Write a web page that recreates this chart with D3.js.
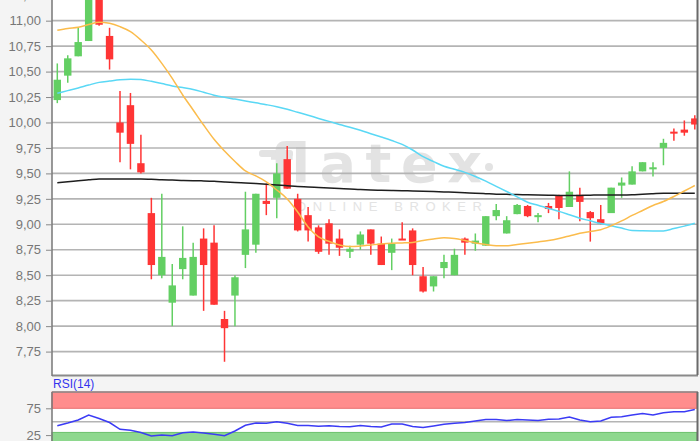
<!DOCTYPE html>
<html>
<head>
<meta charset="utf-8">
<script src="https://cdn.jsdelivr.net/npm/d3@7"></script>
<style>
  body { margin: 0; background: #f4f4f4; }
  svg { display: block; }
</style>
</head>
<body>
<div id="chart"></div>
<script>
// daily candles
var opens  = [10.22,10.46,10.65,10.80,11.30,10.85,10.00,10.17,9.60,9.11,8.50,8.23,8.56,8.30,8.86,8.82,8.07,8.30,8.70,8.80,9.23,9.26,9.64,9.25,9.09,8.97,9.01,8.86,8.73,8.80,8.95,8.81,8.72,8.86,8.94,8.49,8.39,8.57,8.50,8.86,8.81,8.79,9.08,8.91,9.10,9.18,9.07,9.18,9.28,9.17,9.29,9.12,9.05,9.11,9.38,9.39,9.52,9.54,9.75,9.91,9.93,10.04];
var highs  = [10.58,10.66,10.93,11.35,11.38,10.93,10.31,10.29,9.88,9.26,9.30,8.61,8.98,8.82,8.96,8.99,8.15,8.50,9.32,9.30,9.40,9.60,9.77,9.30,9.17,8.99,9.05,8.95,8.79,8.93,8.95,8.88,8.86,9.02,8.96,8.58,8.49,8.70,8.76,8.87,8.91,9.08,9.20,9.08,9.20,9.19,9.11,9.21,9.29,9.52,9.36,9.13,9.19,9.36,9.46,9.57,9.61,9.61,9.84,9.94,10.02,10.07];
var lows   = [10.19,10.39,10.65,10.80,10.95,10.52,9.61,9.54,9.50,8.46,8.47,8.00,8.46,8.30,8.15,8.21,7.65,8.00,8.57,8.72,9.09,9.06,9.35,8.93,8.83,8.71,8.70,8.69,8.67,8.75,8.70,8.60,8.55,8.85,8.50,8.33,8.34,8.47,8.50,8.70,8.74,8.79,9.04,8.91,9.10,9.07,9.02,9.11,9.05,9.17,9.03,8.83,9.00,9.11,9.26,9.39,9.52,9.47,9.58,9.82,9.87,9.93];
var closes = [10.42,10.63,10.79,11.28,10.96,10.62,9.90,9.79,9.51,8.60,8.68,8.40,8.67,8.68,8.60,8.21,7.98,8.48,8.95,9.30,9.20,9.50,9.35,8.94,8.94,8.73,8.81,8.77,8.76,8.90,8.81,8.60,8.81,8.85,8.60,8.34,8.49,8.63,8.70,8.82,8.84,9.08,9.14,9.04,9.19,9.08,9.09,9.15,9.16,9.32,9.22,9.06,9.01,9.36,9.41,9.52,9.61,9.56,9.80,9.90,9.90,9.98];

// moving averages as drawn
var maShort = [10.905,10.923,10.935,10.962,10.984,10.974,10.941,10.892,10.810,10.712,10.581,10.434,10.270,10.123,9.975,9.835,9.720,9.617,9.524,9.475,9.416,9.337,9.249,9.121,8.974,8.876,8.832,8.797,8.781,8.787,8.797,8.807,8.814,8.817,8.822,8.841,8.856,8.869,8.861,8.841,8.817,8.802,8.790,8.790,8.802,8.814,8.827,8.841,8.861,8.886,8.912,8.930,8.947,8.986,9.033,9.087,9.136,9.185,9.224,9.273,9.327,9.381];
var maMid   = [10.287,10.313,10.339,10.368,10.394,10.407,10.419,10.424,10.421,10.404,10.382,10.359,10.343,10.325,10.297,10.268,10.247,10.230,10.212,10.193,10.175,10.155,10.130,10.100,10.071,10.040,10.011,9.980,9.953,9.923,9.890,9.857,9.823,9.785,9.730,9.664,9.616,9.570,9.541,9.510,9.470,9.424,9.373,9.322,9.270,9.217,9.188,9.156,9.127,9.094,9.060,9.034,9.007,8.986,8.963,8.938,8.936,8.935,8.935,8.958,8.982,9.010];
var maLong  = [9.409,9.418,9.428,9.437,9.446,9.446,9.446,9.446,9.446,9.442,9.437,9.434,9.431,9.429,9.426,9.422,9.416,9.410,9.405,9.400,9.394,9.387,9.379,9.371,9.367,9.362,9.357,9.352,9.347,9.341,9.337,9.335,9.333,9.330,9.327,9.324,9.321,9.318,9.314,9.310,9.306,9.301,9.296,9.294,9.292,9.290,9.288,9.286,9.283,9.282,9.284,9.286,9.288,9.288,9.288,9.290,9.296,9.301,9.305,9.305,9.305,9.305];

var rsi = [42.5,47.6,53.2,62.5,56,48.5,35.8,34.1,29.9,23.3,25.2,23.9,29.5,30.8,28.9,26.7,23.9,32.6,43.3,47.6,47,50,47,42.9,42.9,41.4,42.4,41,40.7,42.9,41,40.1,45.7,45.7,41,39.2,42,45.1,47,48.5,51.3,54.1,54.1,52.2,54.1,53.2,52.2,54.7,55,58.8,53.2,50,51.3,58.4,59.3,62.5,65.3,62.5,66.8,68.7,68.7,72.8];

var priceTicks = [7.75,8.00,8.25,8.50,8.75,9.00,9.25,9.50,9.75,10.00,10.25,10.50,10.75,11.00,11.25];
var rsiTicks = [75, 25];
var rsiUpper = 75;
var rsiLower = 30;

var width = 700;
var height = 441;
var plotLeft = 52;
var plotRight = 697;
var plotBottom = 375;
var rsiTop = 392;

var upColor = "#63cf63";
var downColor = "#ff3535";

var de = d3.formatLocale({decimal: ",", thousands: ".", grouping: [3], currency: ["", " €"]});
var fmtPrice = de.format(".2f");

var svg = d3.select("#chart").append("svg")
  .attr("width", width)
  .attr("height", height);

svg.append("rect").attr("width", width).attr("height", height).attr("fill", "#f4f4f4");

var days = d3.range(opens.length);
var x = d3.scaleLinear().domain([0, days.length - 1]).range([57.3, 694.8]);
var y = d3.scaleLinear().domain([7.52, 11.203]).range([plotBottom, 0]);
var yr = d3.scaleLinear().domain([25, 75]).range([435.1, 408.3]);

svg.append("clipPath").attr("id", "plotClip")
  .append("rect").attr("x", plotLeft).attr("y", -20).attr("width", plotRight - plotLeft).attr("height", plotBottom + 20);

// price panel
svg.append("rect")
  .attr("x", plotLeft).attr("y", -20)
  .attr("width", plotRight - plotLeft).attr("height", plotBottom + 20)
  .attr("fill", "#fff");

// watermark
var wm = svg.append("g").attr("fill", "#e3e3e3");
wm.append("rect").attr("x", 259).attr("y", 150).attr("width", 34).attr("height", 7).attr("rx", 3);
wm.append("text")
  .attr("x", 270).attr("y", 182)
  .attr("font-family", "DejaVu Sans, sans-serif")
  .attr("font-weight", "bold")
  .attr("font-size", 54)
  .attr("textLength", 212)
  .attr("lengthAdjust", "spacing")
  .text("flatex");
wm.append("circle").attr("cx", 489).attr("cy", 167).attr("r", 4);
wm.append("text")
  .attr("x", 296).attr("y", 211)
  .attr("font-family", "Liberation Sans, Arial, sans-serif")
  .attr("font-size", 13)
  .attr("textLength", 186)
  .attr("lengthAdjust", "spacing")
  .text("ONLINE BROKER");

// grid
svg.append("g").selectAll("line")
  .data(priceTicks)
  .enter().append("line")
  .attr("x1", plotLeft).attr("x2", plotRight)
  .attr("y1", function (d) { return y(d); })
  .attr("y2", function (d) { return y(d); })
  .attr("stroke", "#b4b4b4")
  .attr("stroke-width", 1.6);

var plot = svg.append("g").attr("clip-path", "url(#plotClip)");

// candles
var candles = plot.selectAll("g.candle")
  .data(days)
  .enter().append("g")
  .attr("class", "candle");

candles.append("line")
  .attr("x1", function (i) { return x(i); })
  .attr("x2", function (i) { return x(i); })
  .attr("y1", function (i) { return y(highs[i]); })
  .attr("y2", function (i) { return y(lows[i]); })
  .attr("stroke", function (i) { return closes[i] >= opens[i] ? upColor : downColor; })
  .attr("stroke-width", 1.5);

candles.append("rect")
  .attr("x", function (i) { return x(i) - 3.7; })
  .attr("width", 7.4)
  .attr("y", function (i) { return y(Math.max(opens[i], closes[i])); })
  .attr("height", function (i) { return Math.max(2, Math.abs(y(opens[i]) - y(closes[i]))); })
  .attr("fill", function (i) { return closes[i] >= opens[i] ? upColor : downColor; });

// moving averages
var maLine = d3.line()
  .x(function (d, i) { return x(i); })
  .y(function (d) { return y(d); })
  .curve(d3.curveMonotoneX);

[[maLong, "#1e1e1e"], [maMid, "#5ad8f5"], [maShort, "#fbbc4c"]].forEach(function (m) {
  plot.append("path")
    .datum(m[0])
    .attr("d", maLine)
    .attr("fill", "none")
    .attr("stroke", m[1])
    .attr("stroke-width", 1.5);
});

// axis frame
svg.append("line").attr("x1", plotLeft).attr("x2", plotRight + 1).attr("y1", plotBottom + 0.5).attr("y2", plotBottom + 0.5)
  .attr("stroke", "#8a8a8a").attr("stroke-width", 2);
svg.append("line").attr("x1", plotRight + 0.5).attr("x2", plotRight + 0.5).attr("y1", 0).attr("y2", plotBottom)
  .attr("stroke", "#6a6a6a").attr("stroke-width", 2);

var yAxis = d3.axisLeft(y)
  .tickValues(priceTicks)
  .tickFormat(fmtPrice)
  .tickSize(6)
  .tickPadding(5);

var yg = svg.append("g")
  .attr("transform", "translate(" + plotLeft + ",0)")
  .call(yAxis);
yg.select(".domain").attr("stroke", "#777").attr("stroke-width", 1.5).attr("d", "M0,-20V" + (plotBottom + 1));
yg.selectAll(".tick line").attr("stroke", "#888");
yg.selectAll(".tick text")
  .attr("fill", "#777")
  .attr("font-family", "Liberation Sans, Arial, sans-serif")
  .attr("font-size", 13);

// RSI panel
svg.append("text")
  .attr("x", 53).attr("y", 388)
  .attr("fill", "#3333ee")
  .attr("font-family", "Liberation Sans, Arial, sans-serif")
  .attr("font-size", 12)
  .text("RSI(14)");

svg.append("rect")
  .attr("x", plotLeft).attr("y", rsiTop)
  .attr("width", plotRight - plotLeft).attr("height", height - rsiTop)
  .attr("fill", "#fff");

svg.append("rect")
  .attr("x", plotLeft).attr("y", rsiTop)
  .attr("width", plotRight - plotLeft).attr("height", yr(rsiUpper) - rsiTop)
  .attr("fill", "#ff8d8d")
  .attr("stroke", "#e87070");

svg.append("rect")
  .attr("x", plotLeft).attr("y", yr(rsiLower))
  .attr("width", plotRight - plotLeft).attr("height", height - yr(rsiLower) + 5)
  .attr("fill", "#8ed88e")
  .attr("stroke", "#6cc06c");

svg.append("line")
  .attr("x1", plotLeft).attr("x2", plotRight)
  .attr("y1", yr(50)).attr("y2", yr(50))
  .attr("stroke", "#b4b4b4").attr("stroke-width", 1.6);

svg.append("path")
  .datum(rsi)
  .attr("d", d3.line().x(function (d, i) { return x(i); }).y(function (d) { return yr(d); }))
  .attr("fill", "none")
  .attr("stroke", "#3b3bf5")
  .attr("stroke-width", 1.5);

svg.append("line").attr("x1", plotLeft).attr("x2", plotRight + 1).attr("y1", rsiTop).attr("y2", rsiTop)
  .attr("stroke", "#8a8a8a").attr("stroke-width", 1.5);
svg.append("line").attr("x1", plotRight + 0.5).attr("x2", plotRight + 0.5).attr("y1", rsiTop).attr("y2", height)
  .attr("stroke", "#6a6a6a").attr("stroke-width", 2);

var rAxis = d3.axisLeft(yr)
  .tickValues(rsiTicks)
  .tickFormat(d3.format("d"))
  .tickSize(6)
  .tickPadding(5);

var rg = svg.append("g")
  .attr("transform", "translate(" + plotLeft + ",0)")
  .call(rAxis);
rg.select(".domain").attr("stroke", "#777").attr("stroke-width", 1.5).attr("d", "M0," + rsiTop + "V" + height);
rg.selectAll(".tick line").attr("stroke", "#888");
rg.selectAll(".tick text")
  .attr("fill", "#777")
  .attr("font-family", "Liberation Sans, Arial, sans-serif")
  .attr("font-size", 13);
</script>
</body>
</html>
